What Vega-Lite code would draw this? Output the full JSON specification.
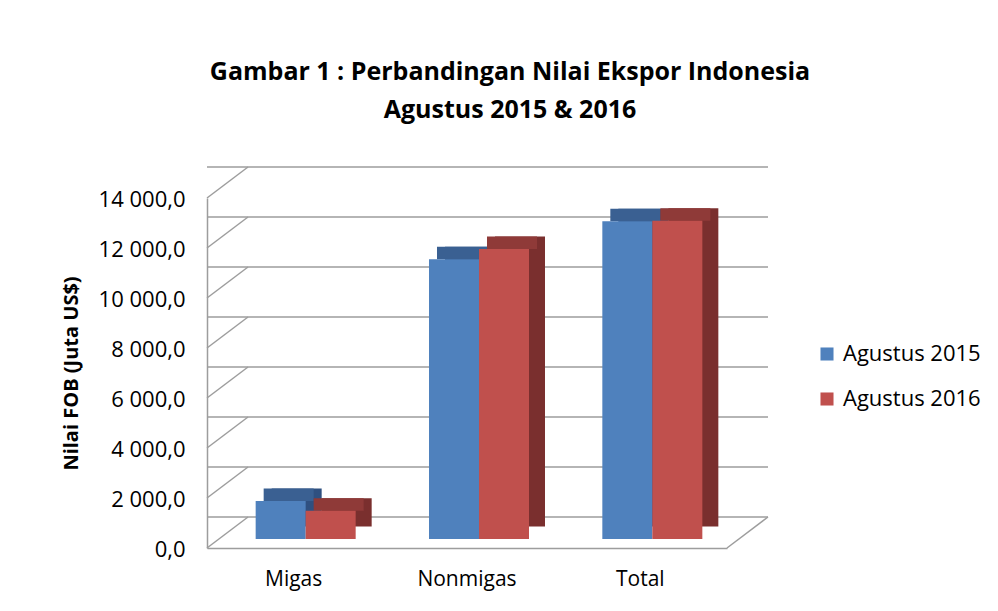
{
  "$schema": "https://vega.github.io/schema/vega-lite/v6.json",
  "width": 520,
  "height": 350,
  "autosize": {"type": "none"},
  "padding": {"left": 207, "top": 198, "right": 271, "bottom": 63},
  "background": "white",
  "config": {"view": {"stroke": null}, "font": "Open Sans"},
  "title": {
    "text": ["Gambar 1 : Perbandingan Nilai Ekspor Indonesia", "Agustus 2015 & 2016"],
    "fontSize": 25,
    "fontWeight": "bold",
    "color": "#000000",
    "lineHeight": 38,
    "anchor": "middle",
    "frame": "group",
    "dx": 43,
    "offset": 43
  },
  "data": {
    "values": [
      {"kategori": "Migas", "tahun": "Agustus 2015", "nilai": 1520},
      {"kategori": "Nonmigas", "tahun": "Agustus 2015", "nilai": 11190},
      {"kategori": "Total", "tahun": "Agustus 2015", "nilai": 12710},
      {"kategori": "Migas", "tahun": "Agustus 2016", "nilai": 1130},
      {"kategori": "Nonmigas", "tahun": "Agustus 2016", "nilai": 11600},
      {"kategori": "Total", "tahun": "Agustus 2016", "nilai": 12730}
    ]
  },
  "encoding": {
    "y": {
      "field": "nilai",
      "type": "quantitative",
      "title": "Nilai FOB (Juta US$)",
      "scale": {"domain": [0, 14000], "nice": false},
      "axis": {
        "values": [0, 2000, 4000, 6000, 8000, 10000, 12000, 14000],
        "labelExpr": "replace(replace(format(datum.value, ',.1f'), ',', ' '), '.', ',')",
        "labelFontSize": 22,
        "labelColor": "#000000",
        "labelPadding": 22,
        "labelOffset": 1,
        "ticks": false,
        "grid": false,
        "domainColor": "#9d9d9d",
        "domainWidth": 1.5,
        "titleFontSize": 20,
        "titleFontWeight": "bold",
        "titleColor": "#000000",
        "titlePadding": 17
      }
    }
  },
  "layer": [
    {
      "data": {"values": [{"nilai": 0}, {"nilai": 2000}, {"nilai": 4000}, {"nilai": 6000}, {"nilai": 8000}, {"nilai": 10000}, {"nilai": 12000}, {"nilai": 14000}]},
      "mark": {"type": "rule", "color": "#9d9d9d", "strokeWidth": 1.5, "xOffset": 41, "x2Offset": 41, "yOffset": -31},
      "encoding": {}
    },
    {
      "data": {"values": [{"nilai": 0}, {"nilai": 2000}, {"nilai": 4000}, {"nilai": 6000}, {"nilai": 8000}, {"nilai": 10000}, {"nilai": 12000}, {"nilai": 14000}]},
      "mark": {"type": "rule", "color": "#9d9d9d", "strokeWidth": 1.5, "y2Offset": -31},
      "encoding": {
        "x": {"value": 0},
        "x2": {"value": 41},
        "y2": {"field": "nilai"}
      }
    },
    {
      "data": {"values": [{"nilai": 0}]},
      "mark": {"type": "rule", "color": "#9d9d9d", "strokeWidth": 1.5, "y2Offset": -31},
      "encoding": {
        "x": {"value": {"expr": "width"}},
        "x2": {"value": {"expr": "width + 41"}},
        "y2": {"field": "nilai"}
      }
    },
    {
      "transform": [{"filter": "datum.tahun == 'Agustus 2015'"}],
      "mark": {"type": "bar", "color": "#2f5080", "width": {"band": 0.5}, "xOffset": 3, "x2Offset": 3, "yOffset": -21.5, "y2Offset": -21.5},
      "encoding": {
        "x": {"field": "kategori", "type": "nominal", "sort": ["Migas", "Nonmigas", "Total"], "scale": {"paddingInner": 0.423, "paddingOuter": 0.2115},
          "axis": {"title": null, "labelAngle": 0, "labelFontSize": 21, "labelColor": "#000000", "labelPadding": 20, "ticks": false, "grid": false, "domainColor": "#9d9d9d", "domainWidth": 1.5}}
      }
    },
    {
      "transform": [{"filter": "datum.tahun == 'Agustus 2015'"}],
      "mark": {"type": "bar", "color": "#3a6092", "width": {"band": 0.5}, "xOffset": -5, "x2Offset": -5, "yOffset": -21.5, "y2Offset": -9},
      "encoding": {
        "x": {"field": "kategori", "type": "nominal", "sort": ["Migas", "Nonmigas", "Total"], "scale": {"paddingInner": 0.423, "paddingOuter": 0.2115},
          "axis": {"title": null, "labelAngle": 0, "labelFontSize": 21, "labelColor": "#000000", "labelPadding": 20, "ticks": false, "grid": false, "domainColor": "#9d9d9d", "domainWidth": 1.5}},
        "y2": {"field": "nilai"}
      }
    },
    {
      "transform": [{"filter": "datum.tahun == 'Agustus 2015'"}],
      "mark": {"type": "bar", "width": {"band": 0.5}, "xOffset": -13, "x2Offset": -13, "yOffset": -9, "y2Offset": -9},
      "encoding": {
        "x": {"field": "kategori", "type": "nominal", "sort": ["Migas", "Nonmigas", "Total"], "scale": {"paddingInner": 0.423, "paddingOuter": 0.2115},
          "axis": {"title": null, "labelAngle": 0, "labelFontSize": 21, "labelColor": "#000000", "labelPadding": 20, "ticks": false, "grid": false, "domainColor": "#9d9d9d", "domainWidth": 1.5}},
        "color": {"field": "tahun", "type": "nominal",
          "scale": {"domain": ["Agustus 2015", "Agustus 2016"], "range": ["#4f81bd", "#c0504d"]},
          "legend": {"orient": "none", "legendX": 609, "legendY": 145, "title": null, "symbolType": "square", "symbolSize": 170, "labelFontSize": 22, "labelColor": "#000000", "rowPadding": 23, "labelOffset": 5}}
      }
    },
    {
      "transform": [{"filter": "datum.tahun == 'Agustus 2016'"}],
      "mark": {"type": "bar", "color": "#7a2f2e", "width": {"band": 0.5}, "xOffset": 53, "x2Offset": 53, "yOffset": -21.5, "y2Offset": -21.5},
      "encoding": {
        "x": {"field": "kategori", "type": "nominal", "sort": ["Migas", "Nonmigas", "Total"], "scale": {"paddingInner": 0.423, "paddingOuter": 0.2115},
          "axis": {"title": null, "labelAngle": 0, "labelFontSize": 21, "labelColor": "#000000", "labelPadding": 20, "ticks": false, "grid": false, "domainColor": "#9d9d9d", "domainWidth": 1.5}}
      }
    },
    {
      "transform": [{"filter": "datum.tahun == 'Agustus 2016'"}],
      "mark": {"type": "bar", "color": "#8f3a38", "width": {"band": 0.5}, "xOffset": 45, "x2Offset": 45, "yOffset": -21.5, "y2Offset": -9},
      "encoding": {
        "x": {"field": "kategori", "type": "nominal", "sort": ["Migas", "Nonmigas", "Total"], "scale": {"paddingInner": 0.423, "paddingOuter": 0.2115},
          "axis": {"title": null, "labelAngle": 0, "labelFontSize": 21, "labelColor": "#000000", "labelPadding": 20, "ticks": false, "grid": false, "domainColor": "#9d9d9d", "domainWidth": 1.5}},
        "y2": {"field": "nilai"}
      }
    },
    {
      "transform": [{"filter": "datum.tahun == 'Agustus 2016'"}],
      "mark": {"type": "bar", "width": {"band": 0.5}, "xOffset": 37, "x2Offset": 37, "yOffset": -9, "y2Offset": -9},
      "encoding": {
        "x": {"field": "kategori", "type": "nominal", "sort": ["Migas", "Nonmigas", "Total"], "scale": {"paddingInner": 0.423, "paddingOuter": 0.2115},
          "axis": {"title": null, "labelAngle": 0, "labelFontSize": 21, "labelColor": "#000000", "labelPadding": 20, "ticks": false, "grid": false, "domainColor": "#9d9d9d", "domainWidth": 1.5}},
        "color": {"field": "tahun", "type": "nominal",
          "scale": {"domain": ["Agustus 2015", "Agustus 2016"], "range": ["#4f81bd", "#c0504d"]},
          "legend": {"orient": "none", "legendX": 609, "legendY": 145, "title": null, "symbolType": "square", "symbolSize": 170, "labelFontSize": 22, "labelColor": "#000000", "rowPadding": 23, "labelOffset": 5}}
      }
    }
  ]
}
